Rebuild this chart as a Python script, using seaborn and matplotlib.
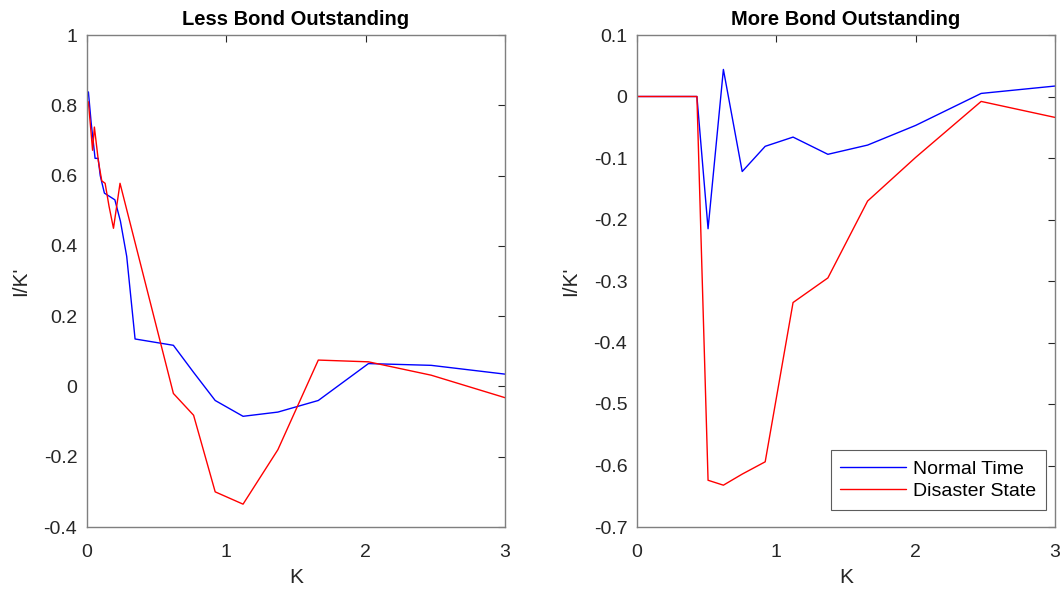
import numpy as np
import pandas as pd
import matplotlib
matplotlib.use("Agg")
import matplotlib.pyplot as plt
from matplotlib.ticker import FuncFormatter
import seaborn as sns

# Policy function I/K' against capital K, low-debt case
k_less_normal = [0.0, 0.01, 0.03, 0.058, 0.08, 0.095, 0.105, 0.125, 0.2, 0.24, 0.285, 0.345, 0.62, 0.765, 0.92, 1.12, 1.37, 1.66, 2.02, 2.47, 3.0]
ik_less_normal = [0.83, 0.838, 0.75, 0.649, 0.649, 0.60, 0.583, 0.55, 0.531, 0.47, 0.37, 0.135, 0.117, 0.04, -0.04, -0.085, -0.073, -0.04, 0.065, 0.06, 0.035]

k_less_disaster = [0.0, 0.01, 0.04, 0.053, 0.082, 0.106, 0.13, 0.158, 0.19, 0.237, 0.62, 0.765, 0.92, 1.12, 1.37, 1.66, 2.02, 2.47, 3.0]
ik_less_disaster = [0.80, 0.81, 0.672, 0.738, 0.64, 0.585, 0.578, 0.513, 0.45, 0.578, -0.02, -0.082, -0.30, -0.335, -0.18, 0.075, 0.07, 0.032, -0.032]

# Policy function I/K' against capital K, high-debt case
k_more = [0.0, 0.43, 0.51, 0.62, 0.755, 0.92, 1.12, 1.37, 1.655, 2.0, 2.47, 3.0]
ik_more_normal = [0.0, 0.0, -0.215, 0.044, -0.122, -0.081, -0.066, -0.094, -0.079, -0.047, 0.005, 0.017]
ik_more_disaster = [0.0, 0.0, -0.624, -0.632, -0.614, -0.594, -0.335, -0.295, -0.170, -0.099, -0.008, -0.034]

series_names = ["Normal Time", "Disaster State"]
panel_titles = ["Less Bond Outstanding", "More Bond Outstanding"]

sns.set_style("white")
plt.rcParams["font.family"] = ["Liberation Sans", "DejaVu Sans"]
plt.rcParams["axes.unicode_minus"] = False

fig = plt.figure(figsize=(10.63, 5.94), dpi=100)
ax1 = fig.add_axes([87 / 1063, (594 - 527) / 594, 418 / 1063, 492 / 594])
ax2 = fig.add_axes([637 / 1063, (594 - 527) / 594, 418 / 1063, 492 / 594])

colors = {"Normal Time": "#0000ff", "Disaster State": "#ff0000"}

less = pd.concat([
    pd.DataFrame({"K": k_less_normal, "IK": ik_less_normal, "state": series_names[0]}),
    pd.DataFrame({"K": k_less_disaster, "IK": ik_less_disaster, "state": series_names[1]}),
])
more = pd.concat([
    pd.DataFrame({"K": k_more, "IK": ik_more_normal, "state": series_names[0]}),
    pd.DataFrame({"K": k_more, "IK": ik_more_disaster, "state": series_names[1]}),
])

sns.lineplot(data=less, x="K", y="IK", hue="state", palette=colors, estimator=None,
             linewidth=1.0, ax=ax1, legend=False)
sns.lineplot(data=more, x="K", y="IK", hue="state", palette=colors, estimator=None,
             linewidth=1.0, ax=ax2)

fmt = FuncFormatter(lambda v, p: f"{v:g}" if abs(v) > 1e-9 else "0")
edge = "#7f7f7f"
text_col = "#262626"

for ax, title, ylim, yticks in [
    (ax1, panel_titles[0], (-0.4, 1.0), np.arange(-0.4, 1.01, 0.2)),
    (ax2, panel_titles[1], (-0.7, 0.1), np.arange(-0.7, 0.11, 0.1)),
]:
    ax.set_xlim(0, 3)
    ax.set_ylim(*ylim)
    ax.set_xticks([0, 1, 2, 3])
    ax.set_yticks(yticks)
    ax.yaxis.set_major_formatter(fmt)
    ax.xaxis.set_major_formatter(fmt)
    ax.tick_params(direction="in", length=5, width=0.8, color=text_col, labelcolor=text_col,
                   labelsize=14, top=True, right=True)
    ax.tick_params(axis="x", pad=12)
    ax.tick_params(axis="y", pad=7)
    for s in ax.spines.values():
        s.set_visible(True)
        s.set_color(edge)
        s.set_linewidth(1.0)
    ax.set_title(title, fontsize=14.5, fontweight="bold", color="black", pad=7)
    ax.set_xlabel("K", fontsize=15, color=text_col, labelpad=5)
    ax.set_ylabel("I/K'", fontsize=15, color=text_col, labelpad=10)

leg = ax2.legend(loc="lower right", bbox_to_anchor=(0.9785, 0.0346), borderaxespad=0.0,
                 fontsize=14, frameon=True, fancybox=False, edgecolor="#333333",
                 handlelength=3.4, labelspacing=0.25, handletextpad=0.35, borderpad=0.5)
leg.get_frame().set_linewidth(0.8)
for t in leg.get_texts():
    t.set_color("black")

fig.savefig("out.png", dpi=100)
